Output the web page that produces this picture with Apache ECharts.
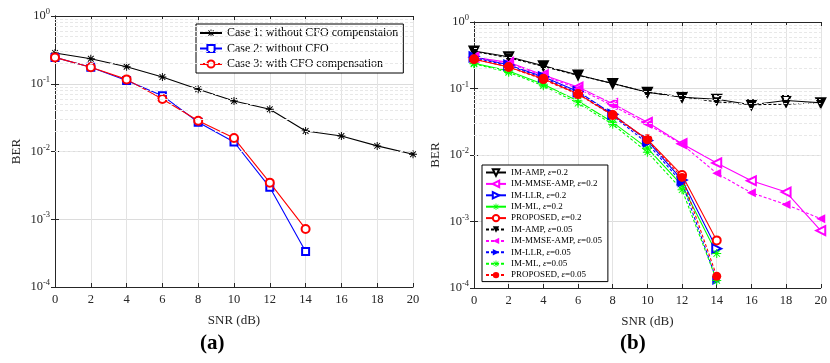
<!DOCTYPE html>
<html>
<head>
<meta charset="utf-8">
<script src="https://cdn.jsdelivr.net/npm/echarts@6/dist/echarts.min.js"></script>
<style>
  html, body { margin: 0; padding: 0; background: #fff; }
  #chart { width: 830px; height: 363px; }
</style>
</head>
<body>
<div id="chart"></div>
<script>
// SNR points (dB)
const snr = [0, 2, 4, 6, 8, 10, 12, 14, 16, 18, 20];
const yDecades = [1e-4, 1e-3, 1e-2, 1e-1, 1];

// (a)
const case1 = [0.285, 0.234, 0.178, 0.126, 0.083, 0.0556, 0.042, 0.0201, 0.0169, 0.0121, 0.0091];
const case2 = [0.245, 0.175, 0.112, 0.0667, 0.027, 0.0138, 0.00296, 0.000333];
const case3 = [0.245, 0.175, 0.116, 0.0596, 0.0285, 0.0158, 0.00347, 0.00072];

// (b) eps = 0.2
const ampA = [0.367, 0.300, 0.220, 0.160, 0.119, 0.088, 0.074, 0.069, 0.057, 0.066, 0.061];
const mmseA = [0.295, 0.248, 0.160, 0.105, 0.059, 0.031, 0.0148, 0.0076, 0.0041, 0.00277, 0.00073];
const llrA = [0.300, 0.225, 0.150, 0.090, 0.041, 0.0165, 0.0042, 0.00039];
const mlA = [0.240, 0.184, 0.116, 0.065, 0.031, 0.0127, 0.0035, 0.00033];
const propA = [0.275, 0.210, 0.140, 0.083, 0.040, 0.0172, 0.0050, 0.00052];
// (b) eps = 0.05
const ampB = [0.360, 0.290, 0.215, 0.158, 0.119, 0.088, 0.075, 0.063, 0.057, 0.058, 0.061];
const mmseB = [0.290, 0.240, 0.155, 0.100, 0.055, 0.029, 0.0145, 0.0053, 0.0027, 0.0018, 0.0011];
const llrB = [0.290, 0.220, 0.145, 0.085, 0.039, 0.015, 0.0038, 0.00013];
const mlB = [0.235, 0.175, 0.110, 0.060, 0.029, 0.011, 0.0030, 0.00013];
const propB = [0.278, 0.211, 0.136, 0.082, 0.0398, 0.017, 0.0046, 0.00015];

const pts = arr => arr.map((v, i) => [snr[i], v]);

const serif = 'Liberation Serif';
const axisColor = '#262626';
const STAR = 'path://M-0.6,-5L0.6,-5L0.6,5L-0.6,5Z M-5,-0.6L5,-0.6L5,0.6L-5,0.6Z M-4,-3.2L-3.2,-4L4,3.2L3.2,4Z M3.2,-4L4,-3.2L-3.2,4L-4,3.2Z';

// minor log grid values
const minorVals = [];
yDecades.slice(0, -1).forEach(d => { for (let k = 2; k <= 9; k++) minorVals.push(d * k); });

function logLabel(v) {
  const e = Math.round(Math.log10(v));
  return '{b|10}{s|' + e + '}';
}

function makeAxes(gi) {
  const xa = [{
    type: 'value', gridIndex: gi, min: 0, max: 20, interval: 2,
    name: 'SNR (dB)', nameLocation: 'middle', nameGap: 27,
    nameTextStyle: { fontFamily: serif, fontSize: 13, color: axisColor },
    axisLine: { lineStyle: { color: axisColor } },
    axisTick: { inside: true, length: 4, lineStyle: { color: axisColor } },
    axisLabel: { fontFamily: serif, fontSize: 12.5, color: axisColor, margin: 6 },
    splitLine: { show: true, lineStyle: { color: '#e3e3e3' } }
  }, {
    type: 'value', gridIndex: gi, min: 0, max: 20, interval: 2, position: 'top',
    axisLine: { lineStyle: { color: axisColor } },
    axisTick: { inside: true, length: 4, lineStyle: { color: axisColor } },
    axisLabel: { show: false }, splitLine: { show: false }
  }];
  const ya = [{
    type: 'log', logBase: 10, gridIndex: gi, min: 1e-4, max: 1,
    name: 'BER', nameLocation: 'middle', nameGap: 32, nameRotate: 90,
    nameTextStyle: { fontFamily: serif, fontSize: 13, color: axisColor },
    axisLine: { lineStyle: { color: axisColor } },
    axisTick: { inside: true, length: 4, lineStyle: { color: axisColor } },
    axisLabel: {
      formatter: logLabel, margin: 5,
      rich: {
        b: { fontFamily: serif, fontSize: 12.5, color: axisColor },
        s: { fontFamily: serif, fontSize: 8.5, color: axisColor, padding: [0, 0, 8, 0] }
      }
    },
    splitLine: { show: true, lineStyle: { color: '#dcdcdc' } }
  }, {
    type: 'log', logBase: 10, gridIndex: gi, min: 1e-4, max: 1, position: 'right',
    axisLine: { lineStyle: { color: axisColor } },
    axisTick: { inside: true, length: 4, lineStyle: { color: axisColor } },
    axisLabel: { show: false }, splitLine: { show: false }
  }];
  return { xa, ya };
}

const A = makeAxes(0);
const B = makeAxes(1);

function minorSeries(xi, yi) {
  return {
    type: 'line', xAxisIndex: xi, yAxisIndex: yi, data: [], silent: true, z: 1,
    markLine: {
      silent: true, symbol: 'none', label: { show: false },
      lineStyle: { color: '#e8e8e8', type: [3, 2], width: 1 },
      data: minorVals.map(v => ({ yAxis: v }))
    }
  };
}

function line(name, xi, yi, data, color, opt) {
  return {
    name, type: 'line', xAxisIndex: xi, yAxisIndex: yi, data: pts(data),
    symbol: opt.symbol, symbolSize: opt.size || 8, symbolRotate: opt.rotate || 0,
    symbolKeepAspect: true, showAllSymbol: true, z: opt.z || 3,
    lineStyle: { color, width: 1.1, type: opt.dash ? [3, 2] : 'solid' },
    itemStyle: { color, borderWidth: opt.symbol.indexOf('empty') === 0 ? 1.1 : 0 },
    emphasis: { disabled: true }
  };
}

const option = {
  animation: false,
  backgroundColor: '#fff',
  grid: [
    { left: 55, right: 417, top: 16, bottom: 76 },
    { left: 474, right: 2, top: 22, bottom: 75 }
  ],
  xAxis: [A.xa[0], A.xa[1], B.xa[0], B.xa[1]],
  yAxis: [A.ya[0], A.ya[1], B.ya[0], B.ya[1]],
  legend: [{
    data: ['Case 1: without CFO compenstaion', 'Case 2: without CFO', 'Case 3: with CFO compensation'],
    orient: 'vertical', left: 196, top: 24, padding: [3, 5, 3, 3],
    backgroundColor: '#fff', borderColor: '#000', borderWidth: 1,
    itemWidth: 22, itemHeight: 9, itemGap: 3.5,
    textStyle: { fontFamily: serif, fontSize: 12, color: '#000' }
  }, {
    data: [
      'IM-AMP, ε=0.2', 'IM-MMSE-AMP, ε=0.2', 'IM-LLR, ε=0.2', 'IM-ML, ε=0.2', 'PROPOSED, ε=0.2',
      'IM-AMP, ε=0.05', 'IM-MMSE-AMP, ε=0.05', 'IM-LLR, ε=0.05', 'IM-ML, ε=0.05', 'PROPOSED, ε=0.05'
    ],
    orient: 'vertical', left: 482, top: 165, padding: [3, 6, 2, 3],
    backgroundColor: '#fff', borderColor: '#000', borderWidth: 1,
    itemWidth: 20, itemHeight: 8, itemGap: 2.4,
    formatter: n => n.replace('ε', '{e|ε}'),
    textStyle: {
      fontFamily: serif, fontSize: 9, color: '#000',
      rich: { e: { fontFamily: serif, fontSize: 9, fontStyle: 'italic', color: '#000' } }
    }
  }],
  series: [
    minorSeries(0, 0),
    minorSeries(2, 2),
    line('Case 1: without CFO compenstaion', 0, 0, case1, '#000', { symbol: STAR, size: 8 }),
    line('Case 2: without CFO', 0, 0, case2, '#0000ff', { symbol: 'emptyRect', size: 7 }),
    line('Case 3: with CFO compensation', 0, 0, case3, '#ff0000', { symbol: 'emptyCircle', size: 8, z: 4 }),

    line('IM-AMP, ε=0.2', 2, 2, ampA, '#000', { symbol: 'emptyTriangle', rotate: 180, size: 9 }),
    line('IM-MMSE-AMP, ε=0.2', 2, 2, mmseA, '#ff00ff', { symbol: 'emptyTriangle', rotate: 90, size: 9 }),
    line('IM-LLR, ε=0.2', 2, 2, llrA, '#0000ff', { symbol: 'emptyTriangle', rotate: -90, size: 9 }),
    line('IM-ML, ε=0.2', 2, 2, mlA, '#00ff00', { symbol: STAR, size: 9 }),
    line('PROPOSED, ε=0.2', 2, 2, propA, '#ff0000', { symbol: 'emptyCircle', size: 8, z: 4 }),
    line('IM-AMP, ε=0.05', 2, 2, ampB, '#000', { symbol: 'triangle', rotate: 180, size: 9, dash: true }),
    line('IM-MMSE-AMP, ε=0.05', 2, 2, mmseB, '#ff00ff', { symbol: 'triangle', rotate: 90, size: 9, dash: true }),
    line('IM-LLR, ε=0.05', 2, 2, llrB, '#0000ff', { symbol: 'triangle', rotate: -90, size: 9, dash: true }),
    line('IM-ML, ε=0.05', 2, 2, mlB, '#00ff00', { symbol: STAR, size: 9, dash: true }),
    line('PROPOSED, ε=0.05', 2, 2, propB, '#ff0000', { symbol: 'circle', size: 9, dash: true, z: 5 })
  ],
  graphic: [
    { type: 'text', left: 200, top: 333, style: { text: '(a)', font: 'bold 21px "Liberation Serif"', fill: '#000' } },
    { type: 'text', left: 620, top: 333, style: { text: '(b)', font: 'bold 21px "Liberation Serif"', fill: '#000' } }
  ]
};

const chart = echarts.init(document.getElementById('chart'));
chart.setOption(option);
</script>
</body>
</html>
